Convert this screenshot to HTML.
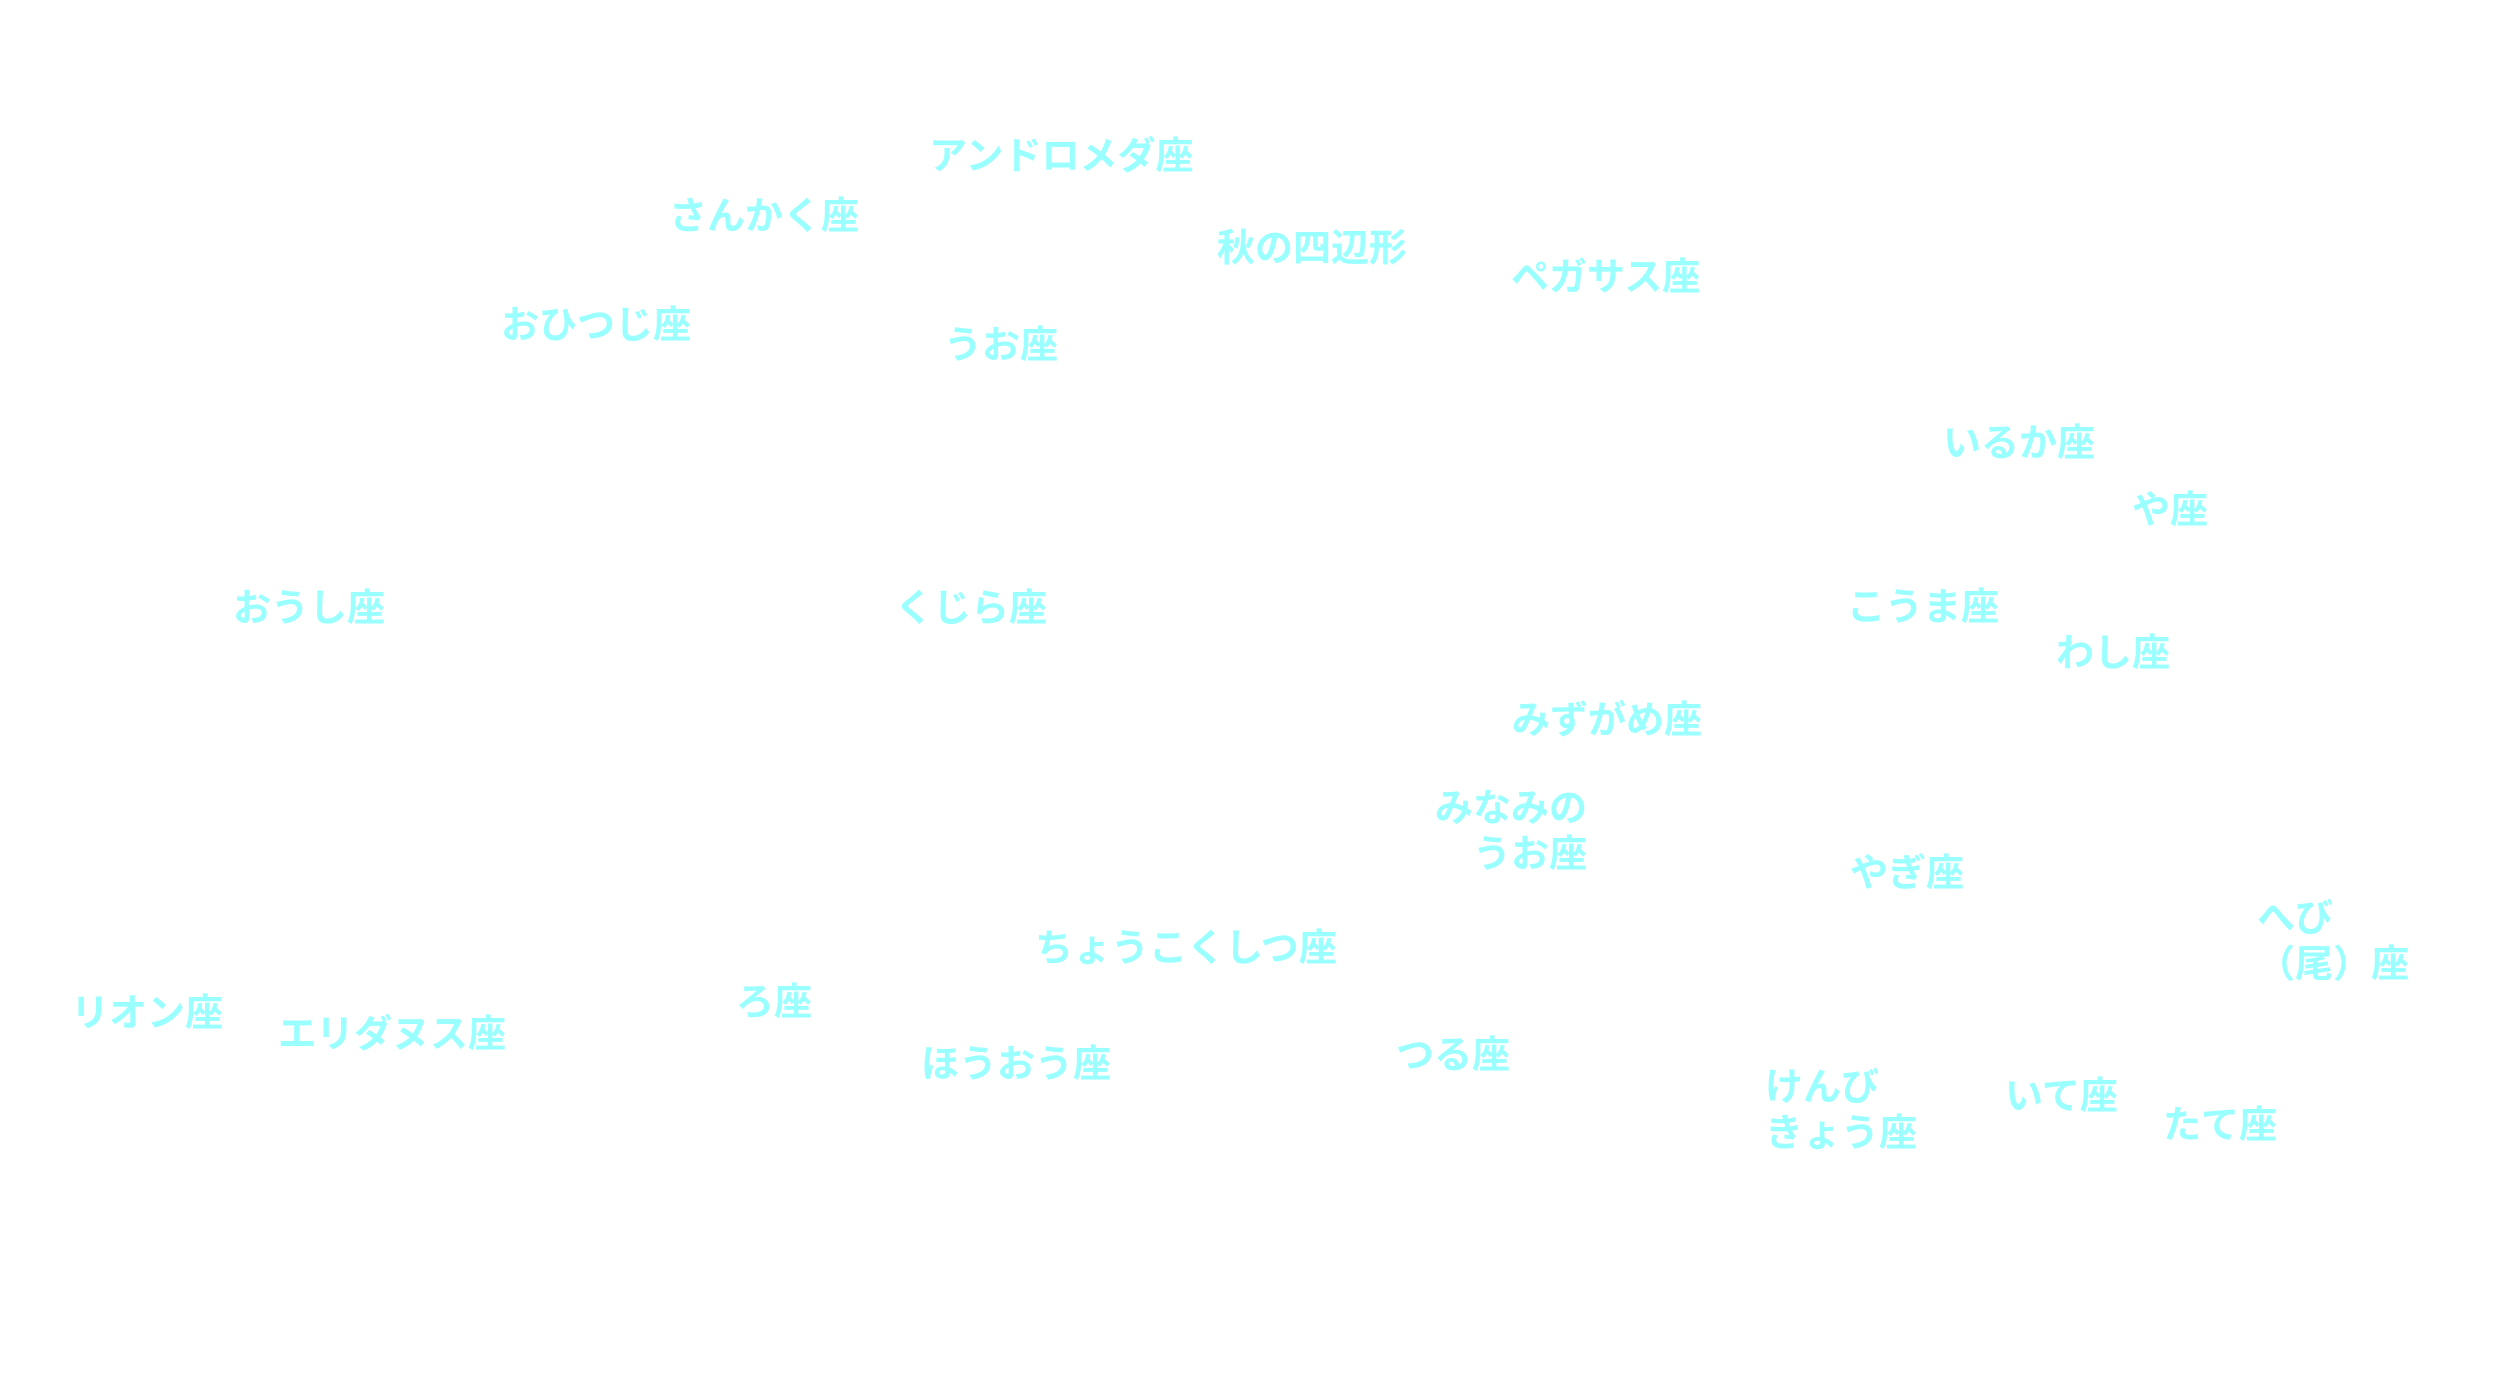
<!DOCTYPE html>
<html><head><meta charset="utf-8"><style>
html,body{margin:0;padding:0;background:#fff;width:2500px;height:1400px;overflow:hidden}
.t{position:absolute;font-family:"Liberation Sans","Noto Sans CJK JP",sans-serif;font-weight:bold;font-size:38px;line-height:46px;color:#99ffff;white-space:nowrap}
</style></head><body>
<div class="t" style="left:929px;top:134px">アンドロメダ座</div>
<div class="t" style="left:669px;top:194px">さんかく座</div>
<div class="t" style="left:1217px;top:226px">秋の四辺形</div>
<div class="t" style="left:1511px;top:255px">ペガサス座</div>
<div class="t" style="left:501px;top:303px">おひつじ座</div>
<div class="t" style="left:944px;top:323px">うお座</div>
<div class="t" style="left:1943px;top:421px">いるか座</div>
<div class="t" style="left:2132px;top:488px">や座</div>
<div class="t" style="left:233px;top:586px">おうし座</div>
<div class="t" style="left:895px;top:586px">くじら座</div>
<div class="t" style="left:1847px;top:585px">こうま座</div>
<div class="t" style="left:2056px;top:631px">わし座</div>
<div class="t" style="left:1512px;top:698px">みずがめ座</div>
<div class="t" style="right:913px;top:786px;text-align:right">みなみの<br>うお座</div>
<div class="t" style="left:1850px;top:851px">やぎ座</div>
<div class="t" style="left:2257px;top:896px">へび<br>（尾）座</div>
<div class="t" style="left:1035px;top:926px">ちょうこくしつ座</div>
<div class="t" style="left:71px;top:991px">リオン座</div>
<div class="t" style="left:278px;top:1012px">エリダヌス座</div>
<div class="t" style="left:736px;top:980px">ろ座</div>
<div class="t" style="left:921px;top:1042px">ほうおう座</div>
<div class="t" style="left:1396px;top:1033px">つる座</div>
<div class="t" style="left:1765px;top:1065px">けんび<br>きょう座</div>
<div class="t" style="left:2005px;top:1074px">いて座</div>
<div class="t" style="left:2163px;top:1103px">たて座</div>
</body></html>
